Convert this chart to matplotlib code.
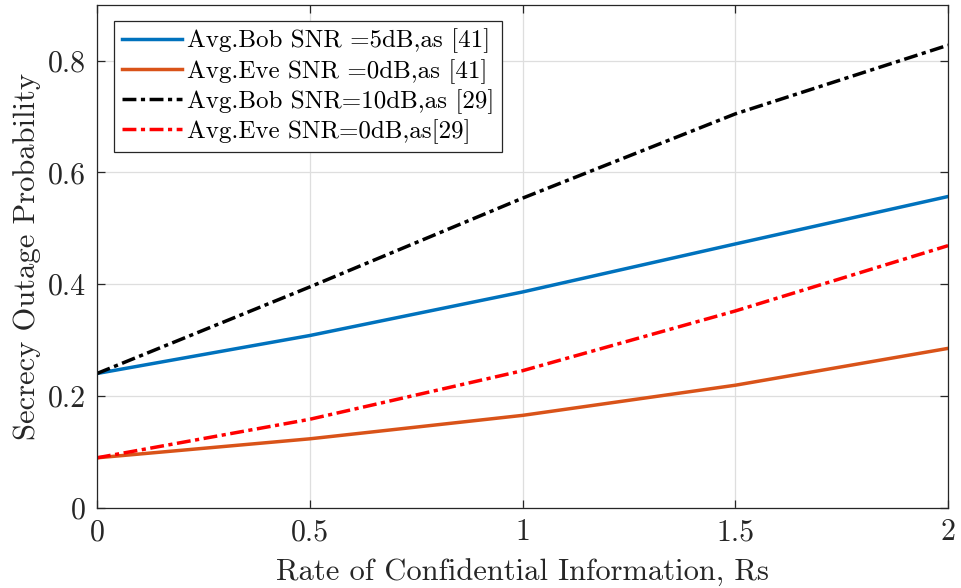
import numpy as np
import matplotlib.pyplot as plt

plt.rcParams['font.family'] = 'cmr10'
plt.rcParams['mathtext.fontset'] = 'cm'
plt.rcParams['axes.formatter.use_mathtext'] = True

# Rate of confidential information
rs = [0, 0.5, 1, 1.5, 2]

# secrecy outage probability for each case
bob_5db_41 = [0.240, 0.308, 0.386, 0.472, 0.557]
eve_0db_41 = [0.089, 0.123, 0.165, 0.219, 0.285]
bob_10db_29 = [0.240, 0.395, 0.554, 0.705, 0.828]
eve_0db_29 = [0.089, 0.158, 0.245, 0.352, 0.469]

labels = [
    "Avg.Bob SNR =5dB,as [41]",
    "Avg.Eve SNR =0dB,as [41]",
    "Avg.Bob SNR=10dB,as [29]",
    "Avg.Eve SNR=0dB,as[29]",
]

fig = plt.figure(figsize=(9.62, 5.88), dpi=100)
ax = fig.add_axes([0.1008, 0.1369, 0.8847, 0.8546])

lw = 2.5
dd = (4.0, 1.3, 1.2, 1.3)
ax.plot(rs, bob_5db_41, color='#0072BD', lw=lw, label=labels[0])
ax.plot(rs, eve_0db_41, color='#D95319', lw=lw, label=labels[1])
ax.plot(rs, bob_10db_29, color='black', lw=lw, dashes=dd, label=labels[2])
ax.plot(rs, eve_0db_29, color='red', lw=lw, dashes=dd, label=labels[3])

ax.set_xlim(0, 2)
ax.set_ylim(0, 0.9)
ax.set_xticks([0, 0.5, 1, 1.5, 2])
ax.set_xticklabels(['0', '0.5', '1', '1.5', '2'])
ax.set_yticks([0, 0.2, 0.4, 0.6, 0.8])
ax.set_yticklabels(['0', '0.2', '0.4', '0.6', '0.8'])

ax.grid(True, color='#dedede', lw=0.9)
ax.set_axisbelow(True)
ax.tick_params(direction='in', top=True, right=True, length=6, width=0.9,
               colors='#262626', labelsize=21.5, pad=8)
for s in ax.spines.values():
    s.set_color('#262626')
    s.set_linewidth(0.9)

ax.set_xlabel("Rate of Confidential Information, Rs", fontsize=22,
              color='#262626', labelpad=9)
ax.set_ylabel("Secrecy Outage Probability", fontsize=22, color='#262626',
              labelpad=5)

leg = ax.legend(loc='upper left', fontsize=18, handlelength=2.4,
                fancybox=False, framealpha=1, borderpad=0.3,
                labelspacing=0.22, handletextpad=0.2, borderaxespad=0,
                bbox_to_anchor=(0.0205, 0.968))
leg.get_frame().set_edgecolor('#262626')
leg.get_frame().set_linewidth(0.9)

fig.savefig("out.png", dpi=100)
